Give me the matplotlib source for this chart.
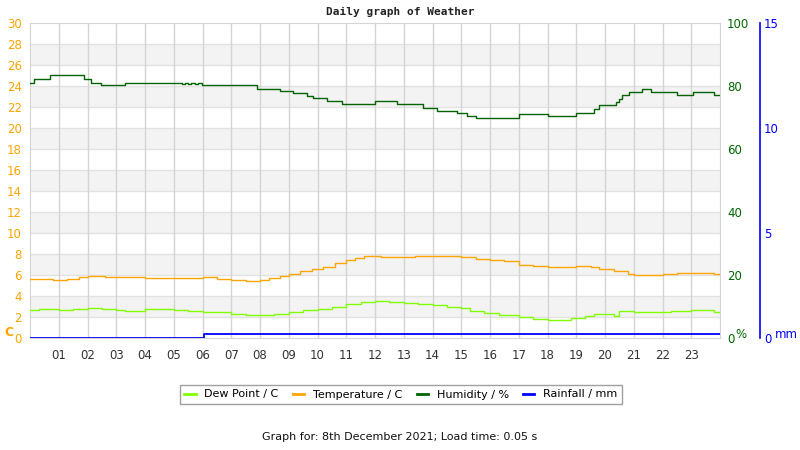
import matplotlib
matplotlib.use('Agg')
import matplotlib.pyplot as plt

# hours of day, step data
hum_t = [0.0, 0.15, 0.7, 1.89, 2.12, 2.47, 3.3, 5.3, 5.4, 5.5, 5.6, 5.75, 5.85, 5.97,
         7.9, 8.7, 9.16, 9.62, 9.86, 10.32, 10.84, 12.0, 12.75, 13.68, 14.15, 14.84,
         15.19, 15.5, 17.0, 18.0, 19.0, 19.6, 19.8, 20.37, 20.5, 20.6, 20.83, 21.3,
         21.6, 22.5, 23.05, 23.8, 24.0]
hum_v = [81.1, 82.2, 83.4, 82.2, 81.1, 80.2, 81.1, 80.5, 81.1, 80.5, 81.1, 80.6, 81.1, 80.2,
         79.2, 78.4, 77.9, 76.9, 76.3, 75.1, 74.2, 75.1, 74.2, 72.9, 72.1, 71.3,
         70.5, 70.0, 71.0, 70.4, 71.3, 72.6, 74.1, 74.9, 75.8, 77.3, 78.2, 79.2,
         78.2, 77.3, 78.2, 77.3, 77.3]

temp_t = [0.0, 0.8, 1.3, 1.7, 2.0, 2.6, 4.0, 6.0, 6.5, 7.0, 7.5, 8.0, 8.3, 8.7, 9.0,
          9.4, 9.8, 10.2, 10.6, 11.0, 11.3, 11.6, 12.2, 13.4, 15.0, 15.5, 16.0, 16.5,
          17.0, 17.5, 18.0, 19.0, 19.5, 19.8, 20.3, 20.8, 21.0, 22.0, 22.5, 23.8, 24.0]
temp_v = [5.6, 5.5, 5.6, 5.8, 5.9, 5.8, 5.7, 5.8, 5.6, 5.5, 5.4, 5.5, 5.7, 5.9, 6.1,
          6.4, 6.6, 6.8, 7.1, 7.4, 7.6, 7.8, 7.7, 7.8, 7.7, 7.5, 7.4, 7.3,
          7.0, 6.9, 6.8, 6.9, 6.8, 6.6, 6.4, 6.1, 6.0, 6.1, 6.2, 6.1, 6.1]

dew_t = [0.0, 0.3, 1.0, 1.5, 2.0, 2.5, 3.0, 3.3, 4.0, 5.0, 5.5, 6.0, 7.0, 7.5, 8.5,
         9.0, 9.5, 10.0, 10.5, 11.0, 11.5, 12.0, 12.5, 13.0, 13.5, 14.0, 14.5, 15.0,
         15.3, 15.8, 16.3, 17.0, 17.5, 18.0, 18.8, 19.3, 19.6, 20.3, 20.5, 21.0,
         22.3, 23.0, 23.8, 24.0]
dew_v = [2.7, 2.8, 2.7, 2.8, 2.9, 2.8, 2.7, 2.6, 2.8, 2.7, 2.6, 2.5, 2.3, 2.2, 2.3,
         2.5, 2.7, 2.8, 3.0, 3.2, 3.4, 3.5, 3.4, 3.3, 3.2, 3.1, 3.0, 2.9,
         2.6, 2.4, 2.2, 2.0, 1.8, 1.7, 1.9, 2.1, 2.3, 2.1, 2.6, 2.5,
         2.6, 2.7, 2.5, 2.5]

rain_t = [0.0, 6.05, 24.0]
rain_v = [0.0, 0.2, 0.2]

hour_labels = ['%02d' % h for h in range(1, 24)]

ORANGE = '#ffa500'
GREEN = '#006400'
LIME = '#7fff00'
BLUE = '#0000ff'
GRID = '#d4d4d4'

fig = plt.figure(figsize=(8, 4.5), dpi=100)
ax = fig.add_axes([30 / 800, 1 - 338 / 450, 690 / 800, 315 / 450])

# alternating bands
for y0 in range(2, 30, 4):
    ax.axhspan(y0, y0 + 2, color='#f3f3f3', zorder=0, lw=0)
for y0 in range(2, 30, 2):
    ax.axhline(y0, color='#e2e2e2', lw=1, zorder=0.5)
for h in range(1, 24):
    ax.axvline(h, color=GRID, lw=1, zorder=0.6)

ax.step(dew_t, dew_v, where='post', color=LIME, lw=1.0, zorder=3, label='Dew Point / C')
ax.step(temp_t, temp_v, where='post', color=ORANGE, lw=1.0, zorder=3, label='Temperature / C')

ax.set_xlim(0, 24)
ax.set_ylim(0, 30)
ax.set_xticks(range(1, 24))
ax.set_xticklabels(hour_labels)
ax.set_yticks(range(0, 31, 2))
ax.tick_params(axis='x', length=0, pad=8, labelsize=8.5, labelcolor='#333333')
ax.tick_params(axis='y', length=0, pad=6, labelsize=8.5, labelcolor=ORANGE)
for s in ax.spines.values():
    s.set_color(GRID)

ax2 = ax.twinx()
ax2.step(hum_t, hum_v, where='post', color=GREEN, lw=1.0, zorder=3, label='Humidity / %')
ax2.set_ylim(0, 100)
ax2.set_yticks(range(0, 101, 20))
ax2.tick_params(axis='y', length=0, pad=5, labelsize=8.5, labelcolor=GREEN)
for s in ax2.spines.values():
    s.set_visible(False)

ax3 = ax.twinx()
ax3.spines['right'].set_position(('axes', 730 / 690))
for k in ['top', 'left', 'bottom']:
    ax3.spines[k].set_visible(False)
ax3.spines['right'].set_color(BLUE)
ax3.spines['right'].set_linewidth(1.2)
ax3.step(rain_t, rain_v, where='post', color=BLUE, lw=1.3, zorder=4, label='Rainfall / mm')
ax3.set_ylim(0, 15)
ax3.set_yticks([0, 5, 10, 15])
ax3.tick_params(axis='y', length=0, pad=3, labelsize=8.5, labelcolor=BLUE)

fig.text(4 / 800, 1 - 333 / 450, 'C', color=ORANGE, fontsize=9, fontweight='bold', va='center')
fig.text(735 / 800, 1 - 334 / 450, '%', color=GREEN, fontsize=8.5, va='center')
fig.text(775 / 800, 1 - 335 / 450, 'mm', color=BLUE, fontsize=8.5, va='center')

fig.text(0.5, 1 - 12 / 450, 'Daily graph of Weather', family='DejaVu Sans Mono',
         fontweight='bold', fontsize=8, ha='center', va='center', color='#222222')

handles = []
labels = []
for a in (ax, ax2, ax3):
    h, l = a.get_legend_handles_labels()
    handles += h
    labels += l
leg = fig.legend(handles, labels, loc='center', bbox_to_anchor=(401 / 800, 1 - 394.5 / 450),
                 ncol=4, fontsize=8, frameon=True, fancybox=False, handlelength=1.0,
                 handletextpad=0.8, columnspacing=1.3, borderpad=0.4)
leg.get_frame().set_edgecolor('#888888')
leg.get_frame().set_linewidth(1)
for ln in leg.get_lines():
    ln.set_linewidth(2)

fig.text(0.5, 1 - 437 / 450, 'Graph for: 8th December 2021; Load time: 0.05 s',
         fontsize=8, ha='center', va='center', color='#111111')

fig.savefig('out.png', dpi=100)
